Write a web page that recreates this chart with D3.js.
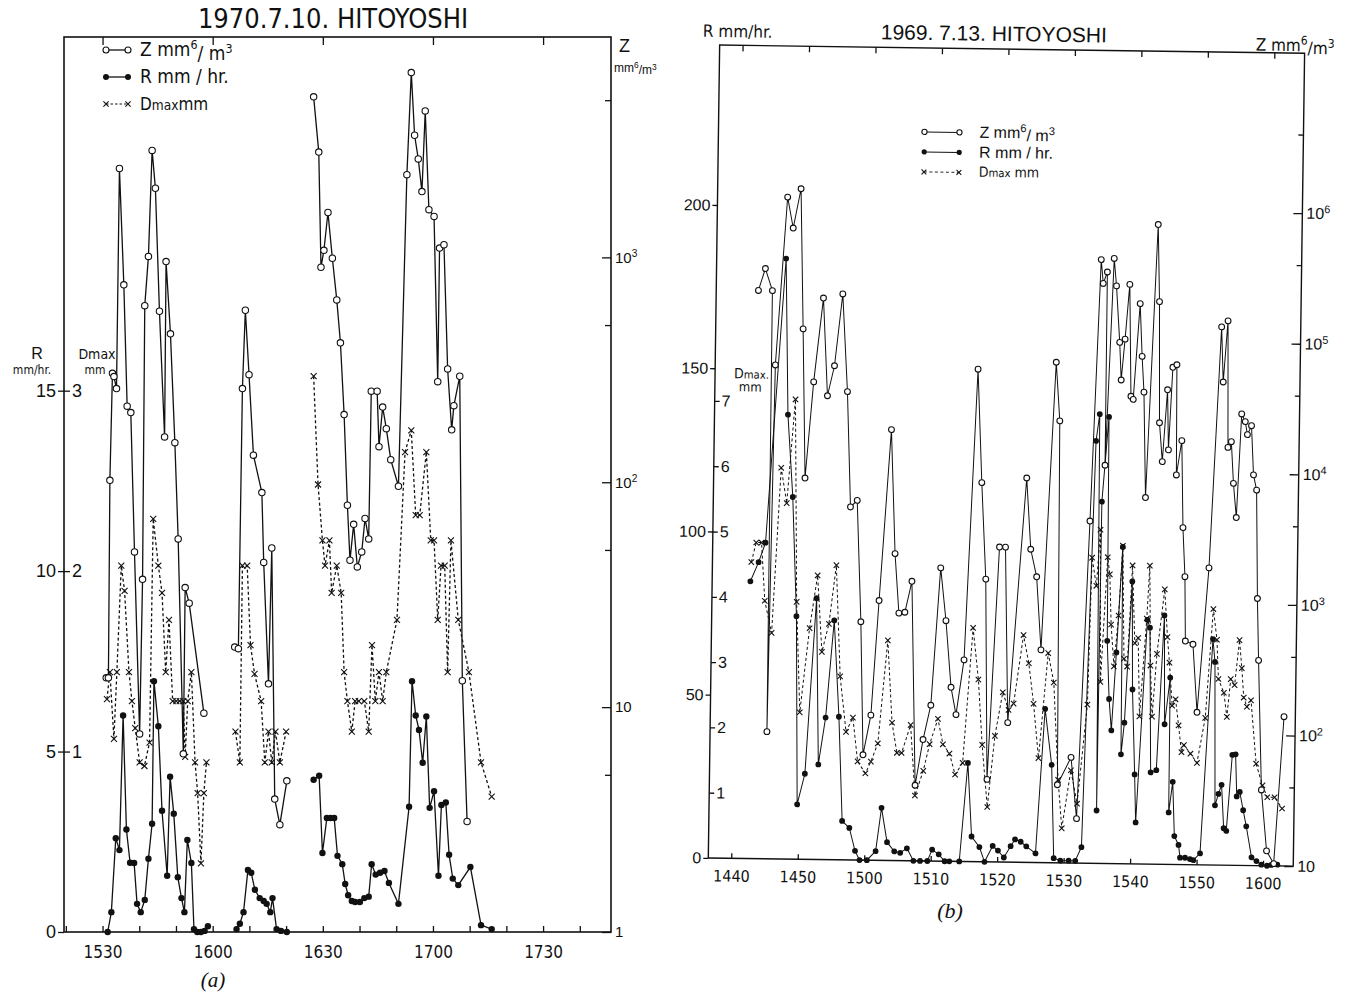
<!DOCTYPE html>
<html><head><meta charset="utf-8">
<script src="https://cdn.jsdelivr.net/npm/d3@7"></script>
<style>
body{margin:0;background:#fff;}
svg{display:block;}
</style></head><body>
<svg id="c" width="1359" height="997"></svg>
<script>
// ---------------- DATA : panel (a) 1970.7.10 (time = minutes after 15:00) ----------------
const aZ_time = [31.0,31.6,32.0,32.7,33.1,33.8,34.6,35.8,36.7,37.7,38.7,40.1,40.9,41.5,42.5,43.5,44.4,45.5,46.9,47.3,48.5,49.7,50.6,52.0,52.5,53.6,57.6,null,
  66.0,67.0,68.1,68.9,69.9,71.1,73.4,73.9,75.2,76.1,76.9,78.3,80.2,null,
  87.5,88.9,89.5,90.3,91.4,92.6,93.8,94.8,95.8,96.7,97.4,98.4,99.4,100.6,101.5,102.5,103.2,104.8,105.3,106.3,107.3,108.5,110.6,112.9,114.1,115.0,116.0,117.0,117.9,118.9,120.3,121.3,121.8,123.0,124.0,125.1,125.7,127.3,128.0,129.3];
const aZ_value = [13.5,13.5,102,305,295,261,2485,755,218,204,49,7.6,37,610,1010,2990,2030,576,159,958,457,150,56,6.2,34,29,9.4,null,
  18.5,18.2,261,582,301,132,90,44,12.7,51,3.9,3.0,4.7,null,
  5176,2938,904,1075,1583,991,647,417,200,79,45,65,42,49,69,56,254,254,144,216,173,126,96,2333,6637,3493,2741,1961,4479,1629,1521,280,1100,1138,319,171,219,296,13.1,3.1];
const aR_time = [31.4,32.4,33.6,34.6,35.6,36.5,37.5,38.6,39.4,40.4,41.5,42.5,43.5,44.0,45.2,46.2,47.6,48.4,49.4,50.5,51.5,52.3,53.1,54.2,54.9,55.8,56.8,57.8,58.7,null,
  66.5,67.4,68.4,69.6,70.5,71.5,72.8,73.9,74.7,75.7,76.3,77.4,78.6,80.2,null,
  87.5,89.0,89.9,91.1,92.1,93.1,94.0,95.3,96.1,96.9,97.9,98.8,100.1,101.3,102.5,103.3,104.4,105.6,106.8,108.0,110.6,113.5,114.3,115.3,116.2,117.2,118.2,119.1,120.3,121.5,122.3,123.5,124.4,125.4,126.9,130.2,133.1,136.0];
const aR_value = [0,0.55,2.6,2.27,6.0,2.84,1.92,1.91,0.78,0.55,0.89,2.03,3.0,6.95,5.7,3.36,1.56,4.3,3.28,1.52,0.94,0.55,2.55,1.91,0.08,0,0,0.03,0.16,null,
  0.08,0.23,0.55,1.72,1.64,1.17,0.94,0.86,0.78,0.55,0.94,0.08,0.03,0,null,
  4.22,4.33,2.19,3.16,3.16,3.16,2.11,1.88,1.33,1.02,0.86,0.83,0.83,0.94,0.98,1.88,1.59,1.64,1.69,1.36,0.78,3.47,6.95,6.0,5.6,4.69,5.97,3.44,3.9,1.56,3.52,3.59,2.14,1.48,1.30,1.80,0.19,0.08];
const aD_time = [31.2,32.0,33.1,33.9,35.1,36.0,37.2,38.0,38.9,40.1,41.4,42.8,43.8,45.2,46.2,47.2,48.1,49.1,50.1,51.0,52.0,52.5,53.2,54.2,55.2,55.9,56.8,57.6,58.3,null,
  66.2,67.4,68.1,69.4,70.3,71.4,73.2,74.2,75.2,76.1,77.1,78.3,80.0,null,
  87.5,88.7,89.9,90.6,91.8,92.4,93.8,95.0,95.8,96.7,97.9,98.8,99.8,101.3,102.5,103.4,104.3,105.3,106.3,107.3,110.2,112.4,114.1,115.3,116.4,118.2,119.4,120.3,121.3,122.2,123.2,124.0,124.9,126.9,129.8,133.1,136.0];
const aD_value = [1.29,1.44,1.07,1.44,2.03,1.89,1.44,1.28,1.13,0.94,0.92,1.05,2.29,2.03,1.88,1.44,1.73,1.28,1.28,1.28,1.28,0.97,1.28,1.44,0.94,0.77,0.38,0.77,0.94,null,
  1.11,0.94,2.03,2.03,1.59,1.43,1.28,0.94,1.11,0.94,1.11,0.94,1.11,null,
  3.08,2.48,2.17,2.03,2.17,1.88,2.03,1.88,1.44,1.28,1.11,1.28,1.28,1.28,1.11,1.59,1.28,1.44,1.28,1.44,1.73,2.66,2.78,2.31,2.31,2.66,2.17,2.17,1.73,2.03,2.03,1.44,2.17,1.73,1.44,0.94,0.75];

// ---------------- DATA : panel (b) 1969.7.13 (time = minutes after 14:00) ----------------
const bZ_time = [42.9,43.9,45.0,45.1,45.6,47.1,48.0,49.1,49.7,50.3,51.4,52.7,53.5,54.5,55.6,56.5,57.2,58.2,59.0,59.6,60.7,61.7,63.2,64.0,64.7,65.6,66.6,67.5,68.6,69.7,70.9,71.8,72.7,73.5,74.6,76.1,76.9,77.7,78.3,79.7,80.6,81.3,
  83.65,84.4,85.35,86.15,87.85,88.5,88.9,90.9,91.85,93.25,94.4,94.75,95.35,95.4,96.35,96.75,97.35,97.65,98.15,98.75,99.15,99.5,100.35,100.75,101.1,101.55,102.9,103.25,103.5,104.0,104.65,104.9,105.4,106.0,106.15,106.9,107.25,107.65,107.85,109.0,109.75,111.25,112.65,113.0,113.6,113.85,114.35,114.75,115.25,115.85,116.4,116.75,117.35,117.75,118.25,118.6,118.9,119.6,120.5,121.6,122.85];
const bZ_value = [2.24e5,3.30e5,2.24e5,94,6.05e4,1.17e6,6.79e5,1.36e6,1.15e5,8.3e3,4.53e4,1.99e5,3.56e4,6.05e4,2.15e5,3.85e4,5.04e3,5.67e3,668,64,129,975,1.99e4,2.24e3,785,798,1.38e3,37.9,85,156,1.76e3,695,215,133,350,5.9e4,8.0e3,1.46e3,42.8,2.58e3,2.58e3,117,
  8.77e3,2.50e3,1.54e3,425,6.8e4,2.42e4,39.6,64.4,21.9,4.17e3,4.2e5,2.76e5,3.38e5,1.12e4,4.3e5,2.65e5,9.8e4,5.05e4,1.04e5,2.73e5,3.8e4,3.6e4,1.95e5,7.7e4,4.1e4,6.4e3,7.9e5,2.03e5,2.4e4,1.21e4,4.3e4,1.49e4,6.4e4,6.7e4,9.6e3,1.76e4,3.8e3,1.6e3,515,487,147,1.88e3,1.32e5,5.0e4,1.47e5,1.58e4,1.75e4,8.4e3,4.6e3,2.86e4,2.5e4,1.99e4,2.33e4,9.8e3,7.5e3,1.11e3,373,38,13,10.4,139];
const bR_time = [42.3,43.5,44.5,47.0,47.6,48.5,49.3,49.8,50.9,52.3,52.9,53.9,55.0,55.9,56.6,57.7,58.6,59.3,60.4,61.7,62.5,63.4,64.5,65.4,66.4,67.4,68.4,69.5,70.2,71.2,72.1,72.8,74.3,75.4,76.1,77.3,78.1,79.3,80.1,81.0,82.0,
  82.65,83.5,84.35,85.75,86.9,88.0,88.5,89.5,90.75,91.75,92.65,94.0,94.5,94.85,95.0,95.9,96.1,96.5,96.9,97.5,98.25,98.4,98.85,99.75,100.0,100.5,100.75,102.1,102.5,102.9,103.75,104.65,104.9,105.65,105.7,106.25,106.6,107.25,107.5,108.25,109.0,109.5,110.5,112.0,112.35,112.65,113.15,113.6,114.0,114.4,115.15,115.65,115.9,116.35,116.9,117.4,118.25,119.0,119.75,120.6,121.25,122.15];
const bR_value = [84.9,90.8,96.8,183.9,136.1,110.9,74.4,16.8,26.2,80.0,29.1,43.5,73.3,43.8,11.9,9.8,2.8,0,0,2.8,16.1,5.6,2.8,2.4,3.8,0,0,0,3.5,2.1,0,0,0,30.2,7.7,4.5,0,4.9,3.5,1.4,4.9,
  7.0,6.3,4.9,2.8,47.1,30.0,1.4,0.7,0.7,0.7,4.9,129.4,137.6,16.2,110.8,136.8,68.2,50.4,40.8,64.7,97.0,33.5,43.2,86.5,53.4,27.4,12.7,74.8,72.4,28.1,28.8,76.2,42.9,57.2,15.9,25.3,8.7,6.0,2.1,2.1,1.7,1.4,3.5,69.2,62.2,18.3,21.8,24.6,11.3,10.5,33.8,34.0,21.1,22.5,16.9,12.0,2.5,1.4,0.3,0,0.3,0.4];
const bD_time = [42.4,43.1,43.9,44.5,45.6,46.7,47.6,48.7,49.3,50.0,51.3,52.4,53.2,54.2,55.2,56.0,57.0,58.0,58.8,60.0,60.8,61.8,63.1,63.9,64.7,65.4,66.7,67.5,68.7,69.6,70.8,71.6,72.6,73.5,74.6,75.9,76.8,77.5,78.4,79.4,80.5,81.4,
  82.15,83.5,84.35,85.15,86.0,87.25,88.15,89.0,89.65,90.9,91.9,93.25,93.65,94.35,94.85,95.15,96.0,96.35,96.65,97.15,97.75,98.25,98.65,99.15,99.75,100.25,100.75,101.1,102.0,102.35,102.65,103.0,103.6,104.65,105.15,105.5,106.0,106.5,107.0,107.5,107.85,108.85,109.85,111.0,112.0,112.6,112.9,113.75,114.25,114.75,115.35,116.0,116.4,116.75,117.25,117.85,118.75,119.75,120.5,121.6,122.75];
const bD_value = [4.54,4.84,4.84,3.95,3.46,5.99,5.45,7.04,3.94,2.25,3.54,4.35,3.18,3.61,4.51,2.81,1.96,2.18,1.51,1.33,1.51,1.79,3.37,2.11,1.65,1.65,2.08,1.0,1.38,1.79,2.18,1.79,1.65,1.33,1.51,3.58,2.79,1.79,0.84,1.93,2.60,2.33,
  2.43,3.48,3.05,2.43,1.60,3.21,2.76,1.27,0.53,1.42,0.91,2.43,4.68,4.25,5.11,2.78,4.69,4.43,3.66,3.02,3.80,4.87,3.14,3.02,4.57,3.38,3.46,2.26,3.76,4.57,3.04,2.26,3.22,4.21,3.48,3.09,2.43,2.53,2.13,1.72,1.83,1.70,1.56,2.25,3.92,3.45,2.85,2.64,2.27,2.85,2.76,3.45,3.02,2.57,2.43,2.53,1.56,1.23,1.05,1.05,0.88];

// ---------------- TICKS / LABELS ----------------
const aTimeTicks = [30,60,90,120,150];
const aTimeLabels = ["1530","1600","1630","1700","1730"];
const aRTicks = [0,5,10,15];
const aDTicks = [1,2,3];
const aZMajor = [1,10,100,1000];
const aZMinor = [5,50,500,5000];
const bTimeTicks = [40,50,60,70,80,90,100,110,120];
const bTimeLabels = ["1440","1450","1500","1510","1520","1530","1540","1550","1600"];
const bRTicks = [0,50,100,150,200];
const bDTicks = [1,2,3,4,5,6,7];
const bZMajor = [10,1e2,1e3,1e4,1e5,1e6];
const bZMinor = [40,4e2,4e3,4e4,4e5,4e6];

// ---------------- DRAWING ----------------
const svg = d3.select("#c");
const NARROW = "'Liberation Sans Narrow','DejaVu Sans Condensed',sans-serif";
const SANS = "'Liberation Sans','DejaVu Sans',sans-serif";
const INK = "#111";

function series(ts, vs){ return ts.map((t,i)=>({t:t, v:vs[i]})); }

function supText(sel, base, exp){
  sel.text(null);
  sel.append("tspan").text(base);
  if(exp!==null) sel.append("tspan").attr("dy","-0.55em").attr("font-size","0.68em").text(exp);
}
function zLabel(v){
  const e = Math.round(Math.log10(v));
  if(e===0) return ["1",null];
  if(e===1) return ["10",null];
  return ["10", String(e)];
}

function drawSeries(g, x, y, data, kind, opt){
  const line = d3.line().defined(d=>d.t!==null && d.v!==null).x(d=>x(d.t)).y(d=>y(d.v));
  g.append("path").datum(data).attr("d",line).attr("fill","none").attr("stroke",INK)
    .attr("stroke-width",opt.lw).attr("stroke-dasharray",kind==="x"?opt.dash:null);
  const pts = data.filter(d=>d.t!==null && d.v!==null);
  if(kind==="open"){
    g.selectAll(null).data(pts).enter().append("circle").attr("cx",d=>x(d.t)).attr("cy",d=>y(d.v))
      .attr("r",opt.r).attr("fill","#fff").attr("stroke",INK).attr("stroke-width",1.1);
  } else if(kind==="fill"){
    g.selectAll(null).data(pts).enter().append("circle").attr("cx",d=>x(d.t)).attr("cy",d=>y(d.v))
      .attr("r",opt.r).attr("fill",INK);
  } else {
    const s = opt.xs;
    g.selectAll(null).data(pts).enter().append("path")
      .attr("transform",d=>`translate(${x(d.t)},${y(d.v)})`)
      .attr("d",`M${-s},${-s}L${s},${s}M${-s},${s}L${s},${-s}`)
      .attr("stroke",INK).attr("stroke-width",1.1);
  }
}

function styleAxis(g, fs, fam){
  g.select(".domain").remove();
  g.selectAll(".tick line").attr("stroke",INK).attr("stroke-width",1.3);
  g.selectAll(".tick text").attr("fill",INK).attr("font-size",fs).attr("font-family",fam);
}

// ======== PANEL (a) ========
const xa = d3.scaleLinear().domain([19.5,168.5]).range([64,611]);
const yaR = d3.scaleLinear().domain([0,24.8]).range([932,37]);
const yaD = d3.scaleLinear().domain([0,4.96]).range([932,37]);
const yaZ = d3.scaleLog().domain([1,Math.pow(10,3.98)]).range([932,37]);
const ga = svg.append("g");

ga.append("rect").attr("x",xa.range()[0]).attr("y",yaR.range()[1])
  .attr("width",xa.range()[1]-xa.range()[0]).attr("height",yaR.range()[0]-yaR.range()[1])
  .attr("fill","none").attr("stroke",INK).attr("stroke-width",1.6);

const aMinorTimes = d3.range(20,168,10);
const axB = ga.append("g").attr("transform",`translate(0,${yaR.range()[0]})`)
  .call(d3.axisBottom(xa).tickValues(aMinorTimes).tickSize(-6).tickPadding(14)
    .tickFormat(d=>{const i=aTimeTicks.indexOf(d);return i>=0?aTimeLabels[i]:"";}));
styleAxis(axB,"17px",NARROW);
const axT = ga.append("g").attr("transform",`translate(0,${yaR.range()[1]})`)
  .call(d3.axisTop(xa).tickValues(aTimeTicks).tickSize(-8).tickFormat(""));
styleAxis(axT,"16px",NARROW);
const axRa = ga.append("g").attr("transform",`translate(${xa.range()[0]},0)`)
  .call(d3.axisLeft(yaR).tickValues(aRTicks).tickSize(6).tickPadding(2).tickFormat(d3.format("d")));
styleAxis(axRa,"18px",SANS);
const axDa = ga.append("g").attr("transform",`translate(${xa.range()[0]},0)`)
  .call(d3.axisRight(yaD).tickValues(aDTicks).tickSize(6).tickPadding(2).tickFormat(d3.format("d")));
styleAxis(axDa,"18px",SANS);
const axZa = ga.append("g").attr("transform",`translate(${xa.range()[1]},0)`)
  .call(d3.axisRight(yaZ).tickValues(aZMajor).tickSize(-9).tickPadding(4));
styleAxis(axZa,"15px",SANS);
axZa.selectAll(".tick text").each(function(d){const l=zLabel(d);supText(d3.select(this),l[0],l[1]);});
const axZa2 = ga.append("g").attr("transform",`translate(${xa.range()[1]},0)`)
  .call(d3.axisRight(yaZ).tickValues(aZMinor).tickSize(-6).tickFormat(""));
styleAxis(axZa2,"15px",SANS);

const aOpt = {lw:1.3, r:3.2, xs:3, dash:"3,2.5"};
drawSeries(ga, xa, yaD, series(aD_time,aD_value), "x", aOpt);
drawSeries(ga, xa, yaR, series(aR_time,aR_value), "fill", aOpt);
drawSeries(ga, xa, yaZ, series(aZ_time,aZ_value), "open", aOpt);

ga.append("text").attr("x",333).attr("y",28).attr("text-anchor","middle").attr("font-family",NARROW)
  .attr("font-size","27px").attr("fill",INK).text("1970.7.10.  HITOYOSHI");
ga.append("text").attr("x",619).attr("y",52).attr("font-family",SANS).attr("font-size","18px").attr("fill",INK).text("Z");
{ const t = ga.append("text").attr("x",614).attr("y",72).attr("font-family",SANS).attr("font-size","12px").attr("fill",INK);
  t.append("tspan").text("mm"); t.append("tspan").attr("dy","-0.5em").attr("font-size","0.7em").text("6");
  t.append("tspan").attr("dy","0.5em").text("/m"); t.append("tspan").attr("dy","-0.5em").attr("font-size","0.7em").text("3"); }
ga.append("text").attr("x",37).attr("y",359).attr("text-anchor","middle").attr("font-family",SANS).attr("font-size","16px").attr("fill",INK).text("R");
ga.append("text").attr("x",32).attr("y",374).attr("text-anchor","middle").attr("font-family",NARROW).attr("font-size","12px").attr("fill",INK).text("mm/hr.");
ga.append("text").attr("x",97).attr("y",359).attr("text-anchor","middle").attr("font-family",NARROW).attr("font-size","14px").attr("fill",INK).text("Dmax");
ga.append("text").attr("x",95).attr("y",374).attr("text-anchor","middle").attr("font-family",NARROW).attr("font-size","12px").attr("fill",INK).text("mm");
ga.append("text").attr("x",213).attr("y",987).attr("text-anchor","middle").attr("font-family","'Liberation Serif','DejaVu Serif',serif")
  .attr("font-style","italic").attr("font-size","21px").attr("fill",INK).text("(a)");

function legendRow(g, x1, x2, y, kind, opt){
  const lx = d3.scaleLinear().domain([0,1]).range([x1,x2]);
  const d = [{t:0,v:y},{t:1,v:y}];
  drawSeries(g, lx, v=>v, d, kind, opt);
}
legendRow(ga,106,128,50,"open",{lw:1.3,r:3,xs:2.6,dash:"3,2"});
legendRow(ga,106,128,77,"fill",{lw:1.3,r:3,xs:2.6,dash:"3,2"});
legendRow(ga,106,128,104,"x",{lw:1.1,r:3,xs:2.6,dash:"2.5,2"});
{ const t = ga.append("text").attr("x",140).attr("y",56).attr("font-family",NARROW).attr("font-size","19px").attr("fill",INK);
  t.append("tspan").text("Z mm"); t.append("tspan").attr("dy","-0.55em").attr("font-size","0.65em").text("6");
  t.append("tspan").attr("dy","0.55em").text("/ m"); t.append("tspan").attr("dy","-0.55em").attr("font-size","0.65em").text("3"); }
ga.append("text").attr("x",140).attr("y",83).attr("font-family",NARROW).attr("font-size","19px").attr("fill",INK).text("R mm / hr.");
{ const t = ga.append("text").attr("x",140).attr("y",110).attr("font-family",NARROW).attr("font-size","17px").attr("fill",INK);
  t.append("tspan").text("D"); t.append("tspan").attr("font-size","0.8em").text("max"); t.append("tspan").text("mm"); }

// ======== PANEL (b) ========
const xb = d3.scaleLinear().domain([36.55,124.55]).range([714,1299]);
const ybR = d3.scaleLinear().domain([0,249]).range([858,45]);
const ybD = d3.scaleLinear().domain([0,12.45]).range([858,45]);
const ybZ = d3.scaleLog().domain([10,Math.pow(10,1+249/40)]).range([858,45]);
const gb = svg.append("g").attr("transform","rotate(0.8,714,450)");

gb.append("rect").attr("x",xb.range()[0]).attr("y",ybR.range()[1])
  .attr("width",xb.range()[1]-xb.range()[0]).attr("height",ybR.range()[0]-ybR.range()[1])
  .attr("fill","none").attr("stroke",INK).attr("stroke-width",1.4);

const bxB = gb.append("g").attr("transform",`translate(0,${ybR.range()[0]})`)
  .call(d3.axisBottom(xb).tickValues(bTimeTicks).tickSize(-5).tickPadding(12)
    .tickFormat((d,i)=>bTimeLabels[i]));
styleAxis(bxB,"16px",NARROW);
const bxT = gb.append("g").attr("transform",`translate(0,${ybR.range()[1]})`)
  .call(d3.axisTop(xb).tickValues(bTimeTicks).tickSize(-6).tickFormat(""));
styleAxis(bxT,"15px",NARROW);
const bR = gb.append("g").attr("transform",`translate(${xb.range()[0]},0)`)
  .call(d3.axisLeft(ybR).tickValues(bRTicks).tickSize(5).tickPadding(2).tickFormat(d3.format("d")));
styleAxis(bR,"16px",SANS);
const bD = gb.append("g").attr("transform",`translate(${xb.range()[0]},0)`)
  .call(d3.axisRight(ybD).tickValues(bDTicks).tickSize(5).tickPadding(2).tickFormat(d3.format("d")));
styleAxis(bD,"16px",SANS);
const bZ = gb.append("g").attr("transform",`translate(${xb.range()[1]},0)`)
  .call(d3.axisRight(ybZ).tickValues(bZMajor).tickSize(-9).tickPadding(4));
styleAxis(bZ,"16px",SANS);
bZ.selectAll(".tick text").each(function(d){const l=zLabel(d);supText(d3.select(this),l[0],l[1]);});
const bZ2 = gb.append("g").attr("transform",`translate(${xb.range()[1]},0)`)
  .call(d3.axisRight(ybZ).tickValues(bZMinor).tickSize(-5).tickFormat(""));
styleAxis(bZ2,"15px",SANS);

const bOpt = {lw:1.0, r:2.9, xs:2.7, dash:"3,2.5"};
drawSeries(gb, xb, ybD, series(bD_time,bD_value), "x", bOpt);
drawSeries(gb, xb, ybR, series(bR_time,bR_value), "fill", bOpt);
drawSeries(gb, xb, ybZ, series(bZ_time,bZ_value), "open", bOpt);

gb.append("text").attr("x",988).attr("y",37).attr("text-anchor","middle").attr("font-family",SANS)
  .attr("font-size","21px").attr("fill",INK).text("1969. 7.13.  HITOYOSHI");
gb.append("text").attr("x",697).attr("y",37).attr("font-family",NARROW).attr("font-size","17px").attr("fill",INK).text("R mm/hr.");
{ const t = gb.append("text").attr("x",1250).attr("y",43).attr("font-family",NARROW).attr("font-size","17px").attr("fill",INK);
  t.append("tspan").text("Z mm"); t.append("tspan").attr("dy","-0.55em").attr("font-size","0.7em").text("6");
  t.append("tspan").attr("dy","0.55em").text("/m"); t.append("tspan").attr("dy","-0.55em").attr("font-size","0.7em").text("3"); }
{ const t = gb.append("text").attr("x",733).attr("y",378).attr("font-family",NARROW).attr("font-size","14px").attr("fill",INK);
  t.append("tspan").text("D"); t.append("tspan").attr("font-size","0.8em").text("max."); }
gb.append("text").attr("x",738).attr("y",391).attr("font-family",NARROW).attr("font-size","13px").attr("fill",INK).text("mm");

legendRow(gb,920,955,129,"open",{lw:1.0,r:2.6,xs:2.4,dash:"3,2"});
legendRow(gb,920,955,149,"fill",{lw:1.0,r:2.6,xs:2.4,dash:"3,2"});
legendRow(gb,920,955,169,"x",{lw:0.9,r:2.6,xs:2.4,dash:"3,2.5"});
{ const t = gb.append("text").attr("x",975).attr("y",134).attr("font-family",SANS).attr("font-size","16px").attr("fill",INK);
  t.append("tspan").text("Z  mm"); t.append("tspan").attr("dy","-0.55em").attr("font-size","0.7em").text("6");
  t.append("tspan").attr("dy","0.55em").text("/ m"); t.append("tspan").attr("dy","-0.55em").attr("font-size","0.7em").text("3"); }
gb.append("text").attr("x",975).attr("y",154).attr("font-family",SANS).attr("font-size","16px").attr("fill",INK).text("R  mm / hr.");
{ const t = gb.append("text").attr("x",975).attr("y",173).attr("font-family",NARROW).attr("font-size","14px").attr("fill",INK);
  t.append("tspan").text("D"); t.append("tspan").attr("font-size","0.8em").text("max"); t.append("tspan").text(" mm"); }

svg.append("text").attr("x",950).attr("y",918).attr("text-anchor","middle").attr("font-family","'Liberation Serif','DejaVu Serif',serif")
  .attr("font-style","italic").attr("font-size","22px").attr("fill",INK).text("(b)");
</script>
</body></html>
